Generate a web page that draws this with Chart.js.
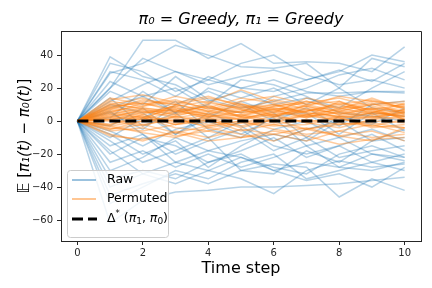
<!DOCTYPE html>
<html>
<head>
<meta charset="utf-8">
<script src="https://cdn.jsdelivr.net/npm/chart.js@4"></script>
<style>
  html, body { margin: 0; padding: 0; background: #fff; }
  canvas { display: block; }
</style>
</head>
<body>
<canvas id="chart" width="432" height="288"></canvas>
<script>
// Time steps on the x axis
const timeSteps = [0, 1, 2, 3, 4, 5, 6, 7, 8, 9, 10];
const xTicks = [0, 2, 4, 6, 8, 10];
const yTicks = [-60, -40, -20, 0, 20, 40];

// Raw runs (blue)
const rawRuns = [
    [0, 39, 27, 22, 12, 18, 10, 14, 8, 20, 30],
    [0, 20, 49, 49, 38, 47, 35, 36, 35, 30, 45],
    [0, 29, 35, 46, 40, 33, 32, 35, 20, 38, 33],
    [0, 12, 22, 30, 22, 27, 31, 25, 31, 24, 35],
    [0, 30, 25, 15, 27, 20, 25, 18, 15, 18, 17],
    [0, 18, 10, 27, 13, 8, 12, 17, 17, 18, 18],
    [0, 8, 15, 5, 20, 14, 20, 10, 20, 8, 5],
    [0, 5, -5, 10, 18, 10, 0, 8, -3, 10, 12],
    [0, -3, 8, -8, 2, 12, 5, -10, 3, -2, 8],
    [0, -10, 2, 12, -5, -10, 3, 5, -8, 5, -6],
    [0, 14, -3, 5, -10, 0, -12, -5, 0, -12, -5],
    [0, -6, -15, -5, 0, -8, 2, -15, -10, -5, -12],
    [0, -15, -8, -20, -12, -5, -18, -10, -22, -18, -15],
    [0, -20, -10, -15, -25, -18, -10, -22, -15, -25, -20],
    [0, -25, -18, -28, -20, -28, -22, -15, -28, -20, -24],
    [0, -30, -22, -10, -18, -22, -28, -32, -20, -15, -22],
    [0, -35, -30, -35, -25, -20, -30, -25, -28, -30, -25],
    [0, -40, -32, -25, -30, -35, -44, -30, -24, -28, -26],
    [0, -45, -38, -32, -38, -30, -26, -28, -46, -35, -42],
    [0, -62, -48, -43, -42, -40, -40, -39, -38, -36, -34],
    [0, -50, -40, -30, -35, -25, -20, -35, -30, -25, -30],
    [0, 24, 15, 20, 8, 5, 15, 20, 28, 32, 25],
    [0, 35, 30, 18, 25, 35, 40, 28, 22, 25, 20],
    [0, 2, 18, 5, 10, 25, 22, 15, 5, 3, 0],
    [0, -8, -20, -12, -28, -15, -5, 0, -10, -20, -22],
    [0, 10, 5, -8, 5, -3, -15, -20, -15, -8, -18],
    [0, -12, -25, -18, -10, -30, -32, -18, -25, -12, -10],
    [0, 6, -8, -25, -18, -12, -8, -12, 0, 5, 3],
    [0, 20, 38, 30, 25, 20, 18, 25, 30, 40, 36],
    [0, -18, -32, -38, -30, -22, -30, -36, -32, -40, -28]
];

// Permuted runs (orange)
const permutedRuns = [
    [0, 8, 12, 10, 14, 10, 8, 6, 10, 13, 8],
    [0, -3, 0, 3, -2, 2, 4, -1, 3, 2, 5],
    [0, 12, 9, 15, 11, 19, 12, 7, 5, 8, 6],
    [0, 3, 6, 2, 5, 8, 4, 6, 9, 7, 5],
    [0, -8, -12, -6, -10, -5, -8, -12, -6, -10, -8],
    [0, 5, 2, 8, 3, 6, 10, 5, 3, 6, 2],
    [0, -2, 4, -1, 2, -4, 1, 4, 0, 3, 1],
    [0, 10, 14, 8, 4, 10, 6, 12, 8, 4, 7],
    [0, -6, -4, -9, -6, -10, -8, -4, -9, -6, -12],
    [0, 6, 9, 12, 8, 5, 9, 11, 14, 9, 6],
    [0, 1, -2, 1, -3, 0, -2, 1, -2, 0, -1],
    [0, 4, 8, 5, 9, 3, 7, 2, 6, 10, 9],
    [0, -4, -6, -2, 1, -6, -2, -5, -1, -3, -4],
    [0, 14, 10, 13, 7, 12, 15, 10, 12, 6, 3],
    [0, 2, 1, 6, 3, 4, 0, 3, 5, 2, 7],
    [0, -5, -2, -7, -3, 0, -5, -8, -6, -2, -7],
    [0, 7, 4, 9, 12, 7, 3, 8, 4, 7, 10],
    [0, 9, 6, 3, 8, 14, 11, 4, 7, 11, 4],
    [0, 1, 3, -2, 0, 3, -1, 4, 2, -3, 1],
    [0, 5, 11, 7, 2, 6, 13, 9, 4, 8, 1],
    [0, -3, -7, -10, -4, -8, -12, -5, -9, -12, -4],
    [0, 11, 7, 4, 10, 2, 5, 14, 10, 5, 9],
    [0, 3, 1, 10, 6, 9, 7, 3, 12, 4, 5],
    [0, -5, 0, 2, -4, -1, 3, -1, -4, 1, 3],
    [0, 6, 3, 0, 4, 1, 4, 7, 2, 5, 3],
    [0, 13, 16, 11, 15, 9, 5, 9, 15, 12, 10],
    [0, 0, -3, 3, 0, -3, 1, -5, -2, -1, -4],
    [0, 8, 5, 7, 1, 4, 8, 5, 3, 1, 6],
    [0, 1, 5, 9, 4, 7, 2, 10, 6, 3, 4],
    [0, -9, -11, -7, -12, -10, -6, -9, -14, -11, -10],
    [0, 4, 2, -2, 3, 1, 6, 2, 8, 12, 8],
    [0, 10, 8, 6, 11, 8, 10, 3, 1, 5, 11],
    [0, -2, 2, -4, -6, -1, -3, -2, 2, -4, -2],
    [0, 2, 7, 4, 6, 11, 3, 6, 11, 7, 1],
    [0, 7, 13, 10, 6, 3, 9, 12, 7, 14, 7],
    [0, 9, 11, 6, 9, 5, 7, 9, 6, 10, 12]
];

// Optimal gap Delta*(pi1, pi0)
const optimalGap = [0, 0, 0, 0, 0, 0, 0, 0, 0, 0, 0];

const BLUE = 'rgba(31, 119, 180, 0.32)';
const ORANGE = 'rgba(255, 127, 14, 0.4)';
const FONT = "'DejaVu Sans', sans-serif";

function toPoints(values) {
    return values.map((v, i) => ({ x: timeSteps[i], y: v }));
}

let datasets = [];
rawRuns.forEach(run => {
    datasets.push({ data: toPoints(run), borderColor: BLUE, borderWidth: 1.5, pointRadius: 0, order: 2 });
});
permutedRuns.forEach(run => {
    datasets.push({ data: toPoints(run), borderColor: ORANGE, borderWidth: 1.5, pointRadius: 0, order: 1 });
});
datasets.push({
    data: toPoints(optimalGap), borderColor: '#000', borderWidth: 3,
    borderDash: [11, 5], pointRadius: 0, order: 0
});

// draws a list of text runs one after another (for the math-ish labels)
function runsWidth(ctx, runs, base) {
    let w = 0;
    runs.forEach(r => {
        ctx.font = (r.italic ? 'italic ' : '') + (r.size || base) + 'px ' + FONT;
        w += ctx.measureText(r.t).width;
    });
    return w;
}
function drawRuns(ctx, x, y, runs, base) {
    base = base || 12.5;
    runs.forEach(r => {
        let size = r.size || base;
        ctx.font = (r.italic ? 'italic ' : '') + size + 'px ' + FONT;
        ctx.fillText(r.t, x, y + (r.dy || 0));
        x += ctx.measureText(r.t).width;
    });
}

const framePlugin = {
    id: 'frame',
    afterDraw(chart) {
        const { ctx, chartArea: a } = chart;
        ctx.save();
        // top & right spines
        ctx.strokeStyle = '#262626';
        ctx.lineWidth = 1;
        ctx.beginPath();
        ctx.moveTo(a.left, Math.round(a.top) + 0.5);
        ctx.lineTo(a.right + 0.5, Math.round(a.top) + 0.5);
        ctx.lineTo(a.right + 0.5, a.bottom);
        ctx.stroke();

        // y axis label
        const yRuns = [
            { t: '𝔼 [' }, { t: 'π₁(t)', italic: true }, { t: ' − ' },
            { t: 'π₀(t)', italic: true }, { t: ']' }
        ];
        ctx.save();
        ctx.translate(25, (a.top + a.bottom) / 2);
        ctx.rotate(-Math.PI / 2);
        ctx.fillStyle = '#000';
        ctx.textBaseline = 'middle';
        drawRuns(ctx, -runsWidth(ctx, yRuns, 15) / 2, 0, yRuns, 15);
        ctx.restore();

        // legend box, lower left
        const bx = a.left + 6, by = a.bottom - 71, bw = 101, bh = 67;
        ctx.fillStyle = 'rgba(255,255,255,0.8)';
        ctx.strokeStyle = '#cccccc';
        ctx.beginPath();
        ctx.roundRect(bx + 0.5, by + 0.5, bw, bh, 3);
        ctx.fill();
        ctx.stroke();

        const hx0 = bx + 5, hx1 = bx + 29, tx = bx + 40;
        const rows = [by + 10, by + 29, by + 49];
        ctx.lineWidth = 1.5;
        ctx.strokeStyle = 'rgba(31,119,180,0.6)';
        ctx.beginPath(); ctx.moveTo(hx0, rows[0]); ctx.lineTo(hx1, rows[0]); ctx.stroke();
        ctx.strokeStyle = 'rgba(255,127,14,0.6)';
        ctx.beginPath(); ctx.moveTo(hx0, rows[1]); ctx.lineTo(hx1, rows[1]); ctx.stroke();
        ctx.strokeStyle = '#000';
        ctx.lineWidth = 3;
        ctx.setLineDash([11, 5]);
        ctx.beginPath(); ctx.moveTo(hx0, rows[2]); ctx.lineTo(hx1 + 1, rows[2]); ctx.stroke();
        ctx.setLineDash([]);

        ctx.fillStyle = '#000';
        ctx.textBaseline = 'middle';
        drawRuns(ctx, tx, rows[0], [{ t: 'Raw' }]);
        drawRuns(ctx, tx, rows[1], [{ t: 'Permuted' }]);
        drawRuns(ctx, tx, rows[2], [
            { t: 'Δ' }, { t: '*', size: 8.5, dy: -5 }, { t: ' (' },
            { t: 'π', italic: true }, { t: '1', size: 9, dy: 3 }, { t: ', ' },
            { t: 'π', italic: true }, { t: '0', size: 9, dy: 3 }, { t: ')' }
        ]);
        ctx.restore();
    }
};

const tickColor = '#262626';

new Chart(document.getElementById('chart'), {
    type: 'line',
    data: { datasets: datasets },
    options: {
        responsive: false,
        animation: false,
        devicePixelRatio: 1,
        layout: { padding: { left: 0, right: 11, top: 0, bottom: 0 } },
        plugins: {
            legend: { display: false },
            tooltip: { enabled: false },
            title: {
                display: true,
                fullSize: false,
                text: 'π₀ = Greedy, π₁ = Greedy',
                color: '#000',
                font: { family: FONT, size: 16, style: 'italic', weight: 'normal' },
                padding: { top: 10, bottom: 2 }
            }
        },
        scales: {
            x: {
                type: 'linear',
                min: -0.5,
                max: 10.5,
                afterBuildTicks: axis => { axis.ticks = xTicks.map(v => ({ value: v })); },
                afterFit: axis => { axis.height = 47; },
                ticks: { color: tickColor, font: { family: FONT, size: 10 }, padding: 2, maxRotation: 0 },
                grid: { display: true, drawOnChartArea: false, drawTicks: true, tickLength: 4, color: tickColor },
                border: { display: true, color: tickColor, width: 1 },
                title: {
                    display: true, text: 'Time step', color: '#000',
                    font: { family: FONT, size: 16 }, padding: { top: 0, bottom: 10 }
                }
            },
            y: {
                type: 'linear',
                min: -72.7,
                max: 54.5,
                afterBuildTicks: axis => { axis.ticks = yTicks.map(v => ({ value: v })); },
                afterFit: axis => { axis.width = 61; },
                ticks: {
                    color: tickColor, font: { family: FONT, size: 10 }, padding: 4,
                    callback: v => String(v).replace('-', '\u2212')
                },
                grid: { display: true, drawOnChartArea: false, drawTicks: true, tickLength: 4, color: tickColor },
                border: { display: true, color: tickColor, width: 1 },
                title: { display: false }
            }
        }
    },
    plugins: [framePlugin]
});
</script>
</body>
</html>
